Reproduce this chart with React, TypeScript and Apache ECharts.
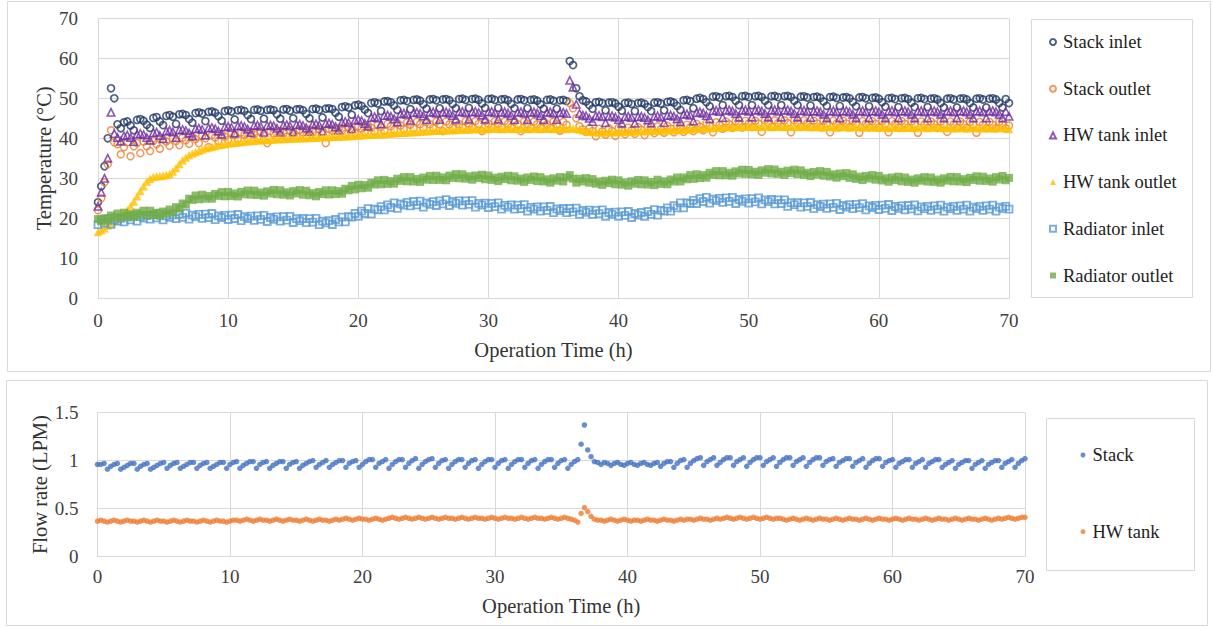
import React, { useEffect, useRef } from "react";
import * as echarts from "echarts";

// Sampling step of every series (hours)
const STEP_H = 0.25;
const X_TICK_INTERVAL = 10;

// ---- Temperatures (°C), one value every 0.25 h from 0 to 70 h ----
const stackInlet = [
  24, 28, 33, 40, 52.5, 50, 43.5, 42.5, 44, 44.2, 43.2, 42, 44.6, 44.8, 44.4, 43.4, 42.6, 45.1, 45.3, 44.2,
  43.3, 45.6, 45.8, 45.4, 43.6, 46, 46.1, 45.8, 44.8, 43.9, 46.3, 46.5, 46.2, 44.3, 46.6, 46.7, 46.4, 45.5, 44.4, 46.8,
  47, 46.7, 44.7, 47, 47.1, 46.8, 45.8, 44.8, 47.1, 47.2, 46.9, 44.9, 47.1, 47.2, 47, 46, 44.9, 47.2, 47.3, 46.9,
  45, 47.2, 47.3, 47, 46.1, 45, 47.3, 47.4, 47.1, 45.2, 47.4, 47.5, 47.3, 46.4, 45.4, 47.8, 48, 47.7, 45.9, 48.2,
  48.4, 48.1, 47.2, 46.3, 48.8, 49, 48.7, 46.8, 49.2, 49.3, 49, 48.2, 47.1, 49.5, 49.6, 49.3, 47.3, 49.6, 49.7, 49.4,
  48.5, 47.4, 49.7, 49.8, 49.5, 47.5, 49.7, 49.8, 49.5, 48.6, 47.5, 49.8, 49.9, 49.6, 47.6, 49.8, 49.9, 49.6, 48.7, 47.6,
  49.8, 49.9, 49.6, 47.6, 49.7, 49.8, 49.5, 48.6, 47.5, 49.7, 49.8, 49.5, 47.5, 49.6, 49.7, 49.4, 48.5, 47.4, 49.6, 49.7,
  49.4, 47.4, 49.5, 49.6, 49.3, 59.3, 58.3, 52.5, 50.5, 49.5, 49.2, 48.3, 47.4, 49, 49.1, 48.8, 47, 48.9, 49, 48.7,
  47.9, 46.9, 48.8, 48.9, 48.6, 46.8, 48.8, 48.9, 48.6, 47.8, 46.8, 48.9, 49, 48.7, 47, 49.1, 49.2, 48.9, 48.1, 47.1,
  49.5, 49.6, 49.3, 47.5, 49.9, 50.1, 49.8, 49, 48, 50.4, 50.5, 50.2, 48.3, 50.5, 50.6, 50.3, 49.4, 48.3, 50.5, 50.6,
  50.3, 48.3, 50.5, 50.6, 50.3, 49.4, 48.3, 50.5, 50.6, 50.3, 48.3, 50.5, 50.6, 50.3, 49.4, 48.3, 50.4, 50.5, 50.2, 48.2,
  50.3, 50.4, 50.1, 49.2, 48.1, 50.3, 50.4, 50.1, 48.1, 50.2, 50.3, 50, 49.1, 48, 50.2, 50.3, 50, 48, 50.1, 50.2,
  49.9, 49, 47.9, 50, 50.1, 49.8, 47.8, 50, 50.1, 49.8, 48.9, 47.8, 50, 50.1, 49.8, 47.8, 49.9, 50, 49.7, 48.8,
  47.7, 49.9, 50, 49.7, 47.7, 49.9, 50, 49.7, 48.8, 47.7, 49.9, 50, 49.7, 47.7, 49.9, 50, 49.7, 48.8, 47.7, 49.8,
  48.8,
];

const stackOutlet = [
  22, 25, 29, 33.5, 42, 39, 38.5, 36, 37.8, 39, 35.5, 38, 38.8, 36.3, 39.2, 38, 36.8, 39.4, 38.5, 37.4,
  39.8, 39.2, 38.1, 40, 39.3, 38.3, 40.2, 39.5, 38.6, 40.4, 39.8, 38.8, 40.6, 40, 37.8, 40.8, 40.2, 39.3, 41, 40.4,
  39.6, 41.4, 40.8, 39.8, 41.5, 40.9, 40, 41.6, 41, 40.1, 41.7, 41.1, 38.8, 41.8, 41.2, 40.3, 41.9, 41.3, 40.4, 42,
  41.4, 40.5, 42.1, 41.5, 40.6, 42.2, 41.6, 40.7, 42.3, 41.7, 38.8, 42.4, 41.9, 41, 42.6, 42, 41.1, 42.8, 42.2, 41.3,
  43, 42.4, 41.5, 43.2, 42.6, 41.7, 43.4, 42.8, 41.9, 43.6, 43, 42.1, 43.8, 43.2, 42.3, 44, 43.4, 42.5, 44.1, 43.5,
  42.6, 44.1, 43.5, 42.6, 44.2, 43.5, 41.8, 44.2, 43.5, 42.6, 44.2, 43.5, 42.7, 44.3, 43.6, 42.7, 44.3, 43.6, 41.8, 44.3,
  43.6, 42.7, 44.3, 43.6, 42.7, 44.3, 43.6, 42.7, 44.2, 43.5, 41.8, 44.2, 43.5, 42.6, 44.2, 43.5, 42.6, 44.2, 43.5, 42.6,
  44.2, 43.5, 41.9, 44.1, 43.4, 48.8, 47.5, 45, 43, 42.2, 41.6, 42.5, 41.8, 40.5, 42.4, 41.7, 40.9, 42.5, 41.8, 40.6,
  42.6, 41.9, 41, 42.7, 42, 41.1, 42.8, 42.1, 40.8, 42.9, 42.2, 41.3, 43, 42.3, 41.4, 43.1, 42.4, 41.5, 43.2, 42.5,
  41.6, 43.4, 42.7, 41.8, 43.6, 42.9, 42, 43.8, 43.1, 41.5, 44, 43.3, 42.4, 44.2, 43.5, 42.6, 44.3, 43.6, 42.7, 44.4,
  43.7, 42.8, 44.4, 43.7, 41.6, 44.5, 43.8, 42.9, 44.5, 43.8, 42.9, 44.5, 43.8, 41.5, 44.5, 43.8, 42.9, 44.5, 43.8, 42.9,
  44.4, 43.7, 42.8, 44.4, 43.7, 41.5, 44.4, 43.7, 42.8, 44.4, 43.7, 42.8, 44.3, 43.6, 41.4, 44.3, 43.6, 42.7, 44.3, 43.6,
  42.7, 44.3, 43.6, 41.5, 44.3, 43.6, 42.7, 44.3, 43.6, 42.7, 44.2, 43.5, 41.4, 44.2, 43.5, 42.6, 44.2, 43.5, 42.6, 44.2,
  43.5, 41.6, 44.2, 43.5, 42.6, 44.2, 43.5, 42.6, 44.1, 43.4, 41.4, 44.1, 43.4, 42.5, 44.1, 43.4, 42.5, 44.1, 43.4, 42.5,
  43.2,
];

const hwTankInlet = [
  23, 26.5, 30, 35, 46.5, 41.2, 40.2, 39.3, 40.6, 40.8, 40.2, 39.2, 41, 41.2, 40.9, 40.2, 39.5, 41.4, 41.5, 40.7,
  39.9, 41.8, 42, 41.6, 40.2, 42.1, 42.2, 41.9, 41.3, 40.6, 42.4, 42.5, 42.2, 40.8, 42.6, 42.7, 42.4, 41.8, 41, 42.9,
  43, 42.7, 41.3, 43.1, 43.2, 42.9, 42.3, 41.4, 43.2, 43.3, 43, 41.5, 43.2, 43.3, 43.1, 42.5, 41.5, 43.3, 43.4, 43.1,
  41.6, 43.4, 43.5, 43.2, 42.6, 41.7, 43.5, 43.6, 43.3, 41.8, 43.7, 43.8, 43.5, 42.9, 42, 44, 44.2, 43.9, 42.4, 44.5,
  44.7, 44.4, 43.7, 43, 45.2, 45.4, 45.1, 43.6, 45.7, 45.8, 45.5, 44.9, 44.1, 46.1, 46.3, 46, 44.5, 46.4, 46.5, 46.2,
  45.6, 44.7, 46.5, 46.6, 46.3, 44.7, 46.5, 46.6, 46.3, 45.7, 44.8, 46.6, 46.7, 46.4, 44.8, 46.6, 46.7, 46.4, 45.8, 44.8,
  46.6, 46.7, 46.4, 44.8, 46.5, 46.6, 46.3, 45.7, 44.7, 46.5, 46.6, 46.3, 44.7, 46.5, 46.6, 46.3, 45.7, 44.7, 46.5, 46.6,
  46.3, 44.7, 46.4, 46.5, 46.2, 54.5, 52.8, 48.5, 46.2, 45.8, 45.6, 45, 44.2, 45.6, 45.7, 45.4, 43.9, 45.5, 45.6, 45.3,
  44.7, 43.8, 45.4, 45.5, 45.2, 43.8, 45.4, 45.5, 45.2, 44.6, 43.8, 45.5, 45.6, 45.3, 43.9, 45.7, 45.8, 45.5, 44.9, 44.1,
  46, 46.1, 45.8, 44.3, 46.4, 46.6, 46.3, 45.7, 44.9, 46.9, 47, 46.7, 45.2, 47, 47.1, 46.8, 46.2, 45.3, 47, 47.1,
  46.8, 45.3, 47, 47.1, 46.8, 46.2, 45.3, 47, 47.1, 46.8, 45.3, 47, 47.1, 46.8, 46.2, 45.3, 46.9, 47, 46.7, 45.2,
  46.8, 46.9, 46.6, 46, 45.1, 46.8, 46.9, 46.6, 45.1, 46.8, 46.9, 46.6, 46, 45.1, 46.8, 46.9, 46.6, 45.1, 46.8, 46.9,
  46.6, 46, 45.1, 46.8, 46.9, 46.6, 45.1, 46.8, 46.9, 46.6, 46, 45.1, 46.8, 46.9, 46.6, 45.1, 46.8, 46.9, 46.6, 46,
  45.1, 46.8, 46.9, 46.6, 45.1, 46.8, 46.9, 46.6, 46, 45.1, 46.8, 46.9, 46.6, 45.1, 46.8, 46.9, 46.6, 46, 45.1, 46.7,
  45.5,
];

const hwTankOutlet = [
  16.6, 17, 17.5, 18.2, 18.8, 19.3, 19.8, 20.4, 21.2, 22, 23, 24.2, 25.5, 26.8, 28, 29.2, 29.9, 30.3, 30.5, 30.6,
  30.7, 30.8, 31.1, 31.7, 32.6, 33.6, 34.5, 35.2, 35.8, 36.2, 36.6, 36.9, 37.2, 37.5, 37.7, 37.9, 38.1, 38.3, 38.4, 38.6,
  38.7, 38.8, 38.9, 39, 39.1, 39.2, 39.3, 39.3, 39.4, 39.5, 39.5, 39.6, 39.6, 39.7, 39.7, 39.8, 39.8, 39.8, 39.9, 39.9,
  40, 40, 40, 40.1, 40.1, 40.1, 40.2, 40.2, 40.2, 40.3, 40.3, 40.3, 40.4, 40.4, 40.4, 40.5, 40.5, 40.6, 40.6, 40.7,
  40.7, 40.8, 40.8, 40.9, 40.9, 41, 41, 41.1, 41.1, 41.2, 41.2, 41.3, 41.3, 41.4, 41.4, 41.5, 41.5, 41.6, 41.6, 41.7,
  41.7, 41.8, 41.8, 41.9, 41.9, 42, 42, 42, 42.1, 42.1, 42.1, 42.2, 42.2, 42.2, 42.2, 42.3, 42.3, 42.3, 42.3, 42.3,
  42.3, 42.4, 42.5, 42.4, 42.3, 42.4, 42.5, 42.4, 42.3, 42.4, 42.5, 42.4, 42.3, 42.4, 42.5, 42.4, 42.3, 42.4, 42.5, 42.4,
  42.3, 42.4, 42.5, 42.4, 42.3, 42.6, 42.5, 42.4, 42.2, 42, 41.8, 41.7, 41.6, 41.6, 41.5, 41.5, 41.5, 41.5, 41.6, 41.6,
  41.6, 41.6, 41.7, 41.7, 41.7, 41.7, 41.8, 41.8, 41.8, 41.8, 41.9, 41.9, 41.9, 42, 42, 42, 42.1, 42.1, 42.1, 42.2,
  42.2, 42.2, 42.3, 42.3, 42.4, 42.4, 42.5, 42.5, 42.6, 42.6, 42.7, 42.7, 42.7, 42.8, 42.8, 42.8, 42.8, 42.9, 42.9, 42.9,
  42.9, 43, 42.9, 42.8, 42.9, 43, 42.9, 42.8, 42.9, 43, 42.9, 42.8, 42.9, 43, 42.9, 42.8, 42.9, 43, 42.9, 42.8,
  42.8, 42.9, 42.8, 42.7, 42.8, 42.9, 42.8, 42.7, 42.8, 42.9, 42.8, 42.7, 42.8, 42.9, 42.8, 42.7, 42.8, 42.9, 42.8, 42.7,
  42.7, 42.8, 42.7, 42.6, 42.7, 42.8, 42.7, 42.6, 42.7, 42.8, 42.7, 42.6, 42.7, 42.8, 42.7, 42.6, 42.7, 42.8, 42.7, 42.6,
  42.6, 42.7, 42.6, 42.5, 42.6, 42.7, 42.6, 42.5, 42.6, 42.7, 42.6, 42.5, 42.6, 42.7, 42.6, 42.5, 42.6, 42.7, 42.6, 42.5,
  42.3,
];

const radiatorInlet = [
  18.4, 19.6, 18.8, 19.9, 18.5, 19.6, 19.3, 20, 19.1, 20.3, 19.6, 20.7, 19.3, 20.4, 20.05, 20.7, 19.8, 20.9, 20.1, 21.1,
  19.6, 20.6, 20.25, 20.85, 19.9, 21, 20.25, 21.25, 19.8, 20.8, 20.4, 21, 20, 21.05, 20.2, 21.2, 19.65, 20.6, 20.2, 20.75,
  19.7, 20.8, 19.95, 20.95, 19.4, 20.4, 19.95, 20.55, 19.5, 20.6, 19.75, 20.75, 19.2, 20.2, 19.75, 20.35, 19.3, 20.4, 19.55, 20.5,
  18.95, 19.9, 19.4, 19.95, 18.9, 19.9, 19.05, 20, 18.4, 19.3, 18.85, 19.4, 18.45, 19.7, 19.1, 20.3, 19.1, 20.4, 20.3, 21.2,
  20.5, 21.8, 21.2, 22.4, 21.1, 22.3, 22.1, 22.9, 22.1, 23.35, 22.7, 23.85, 22.5, 23.6, 23.3, 24, 23.1, 24.2, 23.35, 24.3,
  22.8, 23.85, 23.5, 24.15, 23.2, 24.35, 23.6, 24.65, 23.2, 24.2, 23.75, 24.35, 23.3, 24.35, 23.5, 24.4, 22.8, 23.75, 23.3, 23.8,
  22.7, 23.75, 22.9, 23.85, 22.3, 23.25, 22.8, 23.35, 22.3, 23.3, 22.45, 23.4, 21.8, 22.75, 22.3, 22.85, 21.8, 22.85, 22, 22.95,
  21.4, 22.35, 21.9, 22.45, 21.4, 22.45, 21.6, 22.55, 21, 21.95, 21.5, 22.05, 21, 22, 21.15, 22.1, 20.5, 21.45, 21, 21.55,
  20.5, 21.6, 20.75, 21.7, 20.2, 21.2, 20.8, 21.45, 20.5, 21.7, 21, 22.15, 20.8, 22, 21.8, 22.6, 21.8, 23.15, 22.6, 23.85,
  22.6, 23.85, 23.7, 24.5, 23.7, 24.9, 24.2, 25.25, 23.8, 24.8, 24.4, 25, 24, 25.1, 24.25, 25.25, 23.7, 24.7, 24.25, 24.85,
  23.8, 24.9, 24.1, 25.1, 23.6, 24.6, 24.15, 24.7, 23.6, 24.6, 23.7, 24.6, 23, 23.9, 23.4, 23.9, 22.8, 23.85, 23, 23.95,
  22.4, 23.4, 22.95, 23.55, 22.5, 23.6, 22.75, 23.75, 22.2, 23.2, 22.8, 23.4, 22.4, 23.5, 22.65, 23.65, 22.1, 23.1, 22.7, 23.25,
  22.2, 23.3, 22.5, 23.45, 21.95, 22.95, 22.5, 23.1, 22.1, 23.2, 22.35, 23.35, 21.85, 22.85, 22.4, 23, 22, 23.1, 22.3, 23.3,
  21.8, 22.8, 22.4, 23, 22, 23.1, 22.3, 23.3, 21.8, 22.8, 22.4, 23, 22, 23.1, 22.3, 23.3, 21.8, 22.8, 22.4, 23,
  22.3,
];

const radiatorOutlet = [
  19.8, 19.2, 20, 19.4, 20.7, 20.2, 21.2, 20.3, 21.4, 20.4, 21, 20.3, 21.4, 20.9, 21.9, 20.8, 21.9, 20.8, 21.4, 20.6,
  21.7, 21.2, 22.2, 21.4, 22.8, 22.4, 23.7, 23.4, 24.9, 24.6, 25.7, 24.75, 25.9, 24.9, 25.6, 24.9, 26.1, 25.6, 26.55, 25.5,
  26.6, 25.55, 26.2, 25.45, 26.6, 26, 26.95, 25.9, 26.9, 25.8, 26.45, 25.65, 26.75, 26.2, 27.1, 26, 27, 25.9, 26.5, 25.7,
  26.8, 26.2, 27.05, 25.9, 26.9, 25.75, 26.3, 25.5, 26.6, 26.05, 27, 25.95, 27, 26.05, 26.8, 26.15, 27.4, 27, 28.1, 27.2,
  28.4, 27.5, 28.3, 27.65, 28.9, 28.45, 29.5, 28.5, 29.6, 28.6, 29.3, 28.65, 29.9, 29.35, 30.3, 29.25, 30.3, 29.2, 29.85, 29.1,
  30.2, 29.65, 30.6, 29.6, 30.65, 29.6, 30.25, 29.5, 30.7, 30.1, 31.05, 30, 31, 29.9, 30.5, 29.65, 30.7, 30.05, 30.9, 29.75,
  30.7, 29.6, 30.15, 29.3, 30.4, 29.8, 30.65, 29.5, 30.5, 29.4, 29.95, 29.1, 30.2, 29.6, 30.45, 29.3, 30.3, 29.2, 29.75, 28.9,
  30, 29.4, 30.3, 29.2, 30.2, 30.8, 29.9, 28.9, 29.9, 29.2, 30.05, 28.9, 29.8, 28.65, 29.2, 28.35, 29.4, 28.8, 29.65, 28.5,
  29.5, 28.4, 28.95, 28.15, 29.25, 28.65, 29.6, 28.5, 29.5, 28.45, 29.1, 28.3, 29.65, 28.6, 29.25, 28.5, 29.7, 29.2, 30.2, 29.2,
  30.2, 29.75, 30.8, 29.85, 31, 30.05, 30.8, 30.15, 31.4, 30.85, 31.8, 30.75, 31.8, 30.75, 31.4, 30.65, 31.75, 31.2, 32.15, 31.1,
  32.1, 31, 31.65, 30.85, 32, 31.4, 32.3, 31.2, 32.2, 31.1, 31.65, 30.85, 31.9, 31.3, 32.15, 31.05, 32, 30.85, 31.4, 30.55,
  31.6, 30.95, 31.8, 30.65, 31.6, 30.45, 31, 30.15, 31.2, 30.5, 31.3, 30.1, 31, 29.85, 30.4, 29.55, 30.6, 29.95, 30.8, 29.65,
  30.6, 29.45, 30, 29.15, 30.2, 29.55, 30.4, 29.25, 30.2, 29.1, 29.7, 28.9, 30, 29.4, 30.3, 29.2, 30.2, 29.1, 29.7, 28.9,
  30, 29.4, 30.35, 29.25, 30.3, 29.2, 29.8, 29.05, 30.15, 29.6, 30.5, 29.4, 30.4, 29.35, 29.95, 29.15, 30.3, 29.7, 30.6, 29.5,
  30.1,
];

// ---- Flow rates (LPM), one value every 0.25 h ----
const flowStack = [
  0.96, 0.96, 0.97, 0.91, 0.94, 0.96, 0.97, 0.91, 0.93, 0.95, 0.97, 0.97, 0.91, 0.94, 0.96, 0.97, 0.91, 0.93, 0.95, 0.97,
  0.98, 0.92, 0.95, 0.97, 0.98, 0.92, 0.94, 0.96, 0.98, 0.98, 0.92, 0.95, 0.97, 0.98, 0.92, 0.94, 0.96, 0.98, 0.98, 0.92,
  0.96, 0.98, 0.99, 0.92, 0.95, 0.97, 0.99, 0.99, 0.92, 0.96, 0.98, 0.99, 0.92, 0.95, 0.97, 0.99, 0.99, 0.92, 0.96, 0.98,
  0.99, 0.92, 0.95, 0.97, 0.99, 1.0, 0.93, 0.96, 0.98, 1.0, 0.93, 0.96, 0.98, 1.0, 1.0, 0.93, 0.97, 0.99, 1.0, 0.93,
  0.96, 0.99, 1.01, 1.01, 0.93, 0.97, 0.99, 1.01, 0.92, 0.96, 0.99, 1.01, 1.01, 0.93, 0.97, 1.0, 1.02, 0.92, 0.96, 0.99,
  1.01, 1.02, 0.93, 0.97, 1.0, 1.01, 0.92, 0.96, 0.99, 1.01, 1.01, 0.93, 0.97, 1.0, 1.01, 0.92, 0.96, 0.99, 1.01, 1.01,
  0.93, 0.97, 1.0, 1.01, 0.92, 0.96, 0.99, 1.01, 1.01, 0.93, 0.97, 1.0, 1.01, 0.92, 0.96, 0.99, 1.01, 1.01, 0.93, 0.97,
  1.0, 1.01, 0.92, 0.96, 0.99, 1.01, 1.17, 1.37, 1.11, 1.04, 0.99, 0.98, 0.96, 0.98, 0.97, 0.95, 0.97, 0.98, 0.96, 0.95,
  0.97, 0.98, 0.96, 0.95, 0.97, 0.98, 0.96, 0.95, 0.97, 0.98, 0.94, 0.97, 0.99, 0.99, 0.93, 0.97, 1.0, 1.01, 0.93, 0.97,
  1.0, 1.02, 1.03, 0.95, 0.99, 1.01, 1.03, 0.95, 0.98, 1.01, 1.03, 1.03, 0.95, 0.99, 1.01, 1.03, 0.94, 0.98, 1.01, 1.03,
  1.03, 0.95, 0.99, 1.01, 1.03, 0.94, 0.98, 1.01, 1.03, 1.03, 0.95, 0.99, 1.01, 1.03, 0.94, 0.98, 1.01, 1.03, 1.03, 0.95,
  0.99, 1.01, 1.02, 0.94, 0.98, 1.0, 1.02, 1.02, 0.94, 0.98, 1.0, 1.02, 0.93, 0.97, 1.0, 1.02, 1.02, 0.94, 0.98, 1.0,
  1.01, 0.93, 0.97, 0.99, 1.01, 1.01, 0.93, 0.97, 0.99, 1.01, 0.93, 0.97, 0.99, 1.01, 1.01, 0.93, 0.96, 0.98, 1.0, 0.92,
  0.96, 0.98, 1.0, 1.0, 0.92, 0.96, 0.98, 1.0, 0.92, 0.96, 0.98, 1.0, 1.0, 0.93, 0.97, 0.99, 1.01, 0.93, 0.97, 1.0,
  1.02,
];

const flowHwTank = [
  0.37, 0.38, 0.37, 0.36, 0.37, 0.38, 0.37, 0.36, 0.37, 0.38, 0.37, 0.37, 0.36, 0.37, 0.38, 0.37, 0.36, 0.37, 0.38, 0.37,
  0.37, 0.36, 0.37, 0.38, 0.37, 0.36, 0.37, 0.38, 0.37, 0.37, 0.36, 0.37, 0.38, 0.37, 0.36, 0.37, 0.38, 0.37, 0.37, 0.36,
  0.37, 0.38, 0.38, 0.37, 0.38, 0.39, 0.38, 0.37, 0.38, 0.39, 0.38, 0.38, 0.37, 0.38, 0.39, 0.38, 0.37, 0.38, 0.39, 0.38,
  0.38, 0.37, 0.38, 0.39, 0.38, 0.37, 0.38, 0.39, 0.38, 0.38, 0.37, 0.38, 0.39, 0.38, 0.39, 0.4, 0.39, 0.38, 0.39, 0.4,
  0.39, 0.39, 0.38, 0.39, 0.4, 0.39, 0.38, 0.39, 0.4, 0.41, 0.4, 0.39, 0.4, 0.41, 0.4, 0.39, 0.4, 0.41, 0.4, 0.39,
  0.4, 0.41, 0.4, 0.39, 0.4, 0.41, 0.4, 0.4, 0.39, 0.4, 0.41, 0.4, 0.39, 0.4, 0.41, 0.4, 0.4, 0.39, 0.4, 0.41,
  0.4, 0.39, 0.4, 0.41, 0.4, 0.4, 0.39, 0.4, 0.41, 0.4, 0.39, 0.4, 0.41, 0.4, 0.4, 0.39, 0.4, 0.41, 0.4, 0.39,
  0.4, 0.41, 0.4, 0.39, 0.38, 0.36, 0.45, 0.51, 0.47, 0.42, 0.39, 0.38, 0.38, 0.37, 0.38, 0.39, 0.38, 0.37, 0.38, 0.39,
  0.38, 0.37, 0.38, 0.38, 0.37, 0.38, 0.39, 0.38, 0.38, 0.37, 0.38, 0.39, 0.38, 0.38, 0.37, 0.38, 0.39, 0.38, 0.39, 0.39,
  0.38, 0.39, 0.4, 0.39, 0.39, 0.38, 0.39, 0.4, 0.39, 0.4, 0.41, 0.4, 0.39, 0.4, 0.41, 0.4, 0.39, 0.4, 0.41, 0.4,
  0.39, 0.4, 0.41, 0.4, 0.39, 0.4, 0.4, 0.39, 0.38, 0.39, 0.4, 0.39, 0.38, 0.39, 0.4, 0.39, 0.38, 0.39, 0.4, 0.39,
  0.39, 0.38, 0.39, 0.4, 0.39, 0.38, 0.39, 0.4, 0.39, 0.39, 0.38, 0.39, 0.4, 0.39, 0.38, 0.39, 0.4, 0.39, 0.39, 0.38,
  0.39, 0.4, 0.39, 0.38, 0.39, 0.4, 0.39, 0.39, 0.38, 0.39, 0.4, 0.39, 0.38, 0.39, 0.4, 0.39, 0.39, 0.38, 0.39, 0.4,
  0.39, 0.38, 0.39, 0.4, 0.39, 0.39, 0.38, 0.39, 0.4, 0.39, 0.38, 0.39, 0.4, 0.39, 0.4, 0.41, 0.4, 0.39, 0.4, 0.41,
  0.41,
];

const TEMP_NAMES = ["Stack inlet", "Stack outlet", "HW tank inlet", "HW tank outlet", "Radiator inlet", "Radiator outlet"];
const FLOW_NAMES = ["Stack", "HW tank"];

const FONT = "Liberation Serif";
const GRID_COLOR = "#d9d9d9";
const TICK_FONT = 19;
const NAME_FONT = 20.5;
const LEGEND_FONT = 18.5;

const toPoints = (vals: number[]) => vals.map((v, i) => [i * STEP_H, v]);

function hollow(name: string, values: number[], symbol: string, size: number, color: string, xi: number, bw: number) {
  return {
    name,
    type: "scatter",
    xAxisIndex: xi,
    yAxisIndex: xi,
    symbol,
    symbolSize: size,
    data: toPoints(values),
    itemStyle: { color: "rgba(255,255,255,0)", borderColor: color, borderWidth: bw },
    emphasis: { disabled: true },
  };
}

function filled(name: string, values: number[], symbol: string, size: number, color: string, xi: number) {
  return {
    name,
    type: "scatter",
    xAxisIndex: xi,
    yAxisIndex: xi,
    symbol,
    symbolSize: size,
    data: toPoints(values),
    itemStyle: { color, borderWidth: 0 },
    emphasis: { disabled: true },
  };
}

function xAxisCfg(gridIndex: number, nameGap: number, labelMargin: number) {
  return {
    type: "value",
    gridIndex,
    min: 0,
    max: 70,
    interval: X_TICK_INTERVAL,
    name: "Operation Time (h)",
    nameLocation: "middle",
    nameGap,
    nameTextStyle: { fontFamily: FONT, fontSize: NAME_FONT, color: "#333333" },
    axisLine: { show: true, lineStyle: { color: GRID_COLOR, width: 1 } },
    axisTick: { show: false },
    axisLabel: { margin: labelMargin, fontFamily: FONT, fontSize: TICK_FONT, color: "#404040" },
    splitLine: { show: true, lineStyle: { color: GRID_COLOR, width: 1 } },
  };
}

export default function App() {
  const ref = useRef<HTMLDivElement>(null);

  useEffect(() => {
    if (!ref.current) return;
    const chart = echarts.init(ref.current, null, { renderer: "svg" });

    const option = {
      animation: false,
      backgroundColor: "#ffffff",
      textStyle: { fontFamily: FONT },
      grid: [
        { left: 98, top: 18.3, width: 911, height: 280 },
        { left: 97.5, top: 412.5, width: 927.5, height: 144.2 },
      ],
      xAxis: [xAxisCfg(0, 41, 13), xAxisCfg(1, 39, 10)],
      yAxis: [
        {
          type: "value",
          gridIndex: 0,
          min: 0,
          max: 70,
          interval: 10,
          name: "Temperature (°C)",
          nameLocation: "middle",
          nameGap: 44,
          nameMoveOverlap: false,
          nameTextStyle: { fontFamily: FONT, fontSize: NAME_FONT, color: "#333333" },
          axisLine: { show: true, lineStyle: { color: GRID_COLOR } },
          axisTick: { show: false },
          axisLabel: { margin: 20, fontFamily: FONT, fontSize: TICK_FONT, color: "#404040" },
          splitLine: { show: true, lineStyle: { color: GRID_COLOR } },
        },
        {
          type: "value",
          gridIndex: 1,
          min: 0,
          max: 1.5,
          interval: 0.5,
          name: "Flow rate (LPM)",
          nameLocation: "middle",
          nameGap: 47.5,
          nameMoveOverlap: false,
          nameTextStyle: { fontFamily: FONT, fontSize: NAME_FONT, color: "#333333" },
          axisLine: { show: true, lineStyle: { color: GRID_COLOR } },
          axisTick: { show: false },
          axisLabel: { margin: 19, fontFamily: FONT, fontSize: TICK_FONT, color: "#404040" },
          splitLine: { show: true, lineStyle: { color: GRID_COLOR } },
        },
      ],
      legend: [
        {
          data: TEMP_NAMES,
          orient: "vertical",
          left: 1049,
          top: 32,
          itemWidth: 6,
          itemHeight: 6,
          itemGap: 26.7,
          padding: 0,
          selectedMode: false,
          textStyle: { fontFamily: FONT, fontSize: LEGEND_FONT, color: "#222222", lineHeight: 20, padding: [0, 0, 0, 2] },
        },
        {
          data: FLOW_NAMES,
          orient: "vertical",
          left: 1080.5,
          top: 445,
          itemWidth: 5,
          itemHeight: 5,
          itemGap: 56.7,
          padding: 0,
          selectedMode: false,
          textStyle: { fontFamily: FONT, fontSize: LEGEND_FONT, color: "#222222", lineHeight: 20, padding: [0, 0, 0, 2] },
        },
      ],
      graphic: [
        { type: "rect", silent: true, z: -1, shape: { x: 7.5, y: 1.5, width: 1203, height: 370 }, style: { fill: "none", stroke: GRID_COLOR, lineWidth: 1 } },
        { type: "rect", silent: true, z: -1, shape: { x: 6.5, y: 380.5, width: 1201, height: 245 }, style: { fill: "none", stroke: GRID_COLOR, lineWidth: 1 } },
        { type: "rect", silent: true, shape: { x: 1031.5, y: 19.5, width: 161, height: 278 }, style: { fill: "none", stroke: GRID_COLOR, lineWidth: 1 } },
        { type: "rect", silent: true, shape: { x: 1046.5, y: 418.5, width: 148, height: 152 }, style: { fill: "none", stroke: GRID_COLOR, lineWidth: 1 } },
      ],
      series: [
        hollow("Stack inlet", stackInlet, "circle", 7, "#203864", 0, 1.7),
        hollow("Stack outlet", stackOutlet, "circle", 7, "#ED7D31", 0, 1.5),
        hollow("HW tank inlet", hwTankInlet, "triangle", 7.5, "#7030A0", 0, 1.6),
        filled("HW tank outlet", hwTankOutlet, "triangle", 8.5, "#FFC000", 0),
        hollow("Radiator inlet", radiatorInlet, "rect", 7, "#5B9BD5", 0, 1.8),
        filled("Radiator outlet", radiatorOutlet, "rect", 8, "#70AD47", 0),
        filled("Stack", flowStack, "circle", 5.5, "#4472C4", 1),
        filled("HW tank", flowHwTank, "circle", 5.5, "#ED7D31", 1),
      ],
    };

    chart.setOption(option as any);
    return () => chart.dispose();
  }, []);

  return (
    <div
      ref={ref}
      style={{ position: "fixed", left: 0, top: 0, width: 1214, height: 628, background: "#ffffff" }}
    />
  );
}
